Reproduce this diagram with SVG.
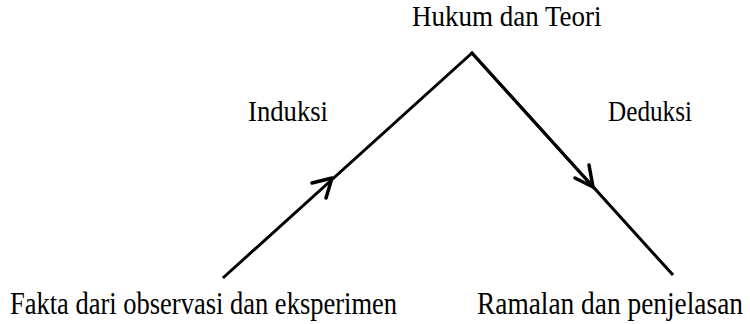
<svg xmlns="http://www.w3.org/2000/svg" width="750" height="324" viewBox="0 0 750 324">
<style>
text{font-family:"Liberation Serif","Times New Roman",serif;font-size:27px;fill:#000}
.ln{fill:none;stroke:#000;stroke-width:3;stroke-linecap:square;stroke-linejoin:miter}
.ar{fill:none;stroke:#000;stroke-width:3.5;stroke-linecap:round;stroke-linejoin:round}
</style>
<rect width="750" height="324" fill="#fff"/>
<g id="connectors">
<path class="ln" d="M224,277 L472,53 L672,274"/>
<path class="ln" d="M472,53 L594,188" stroke-width="4"/>
<path class="ar" d="M312,183 L332,178 L326,198"/>
<path class="ar" d="M575,178 L593,187 L589,165"/>
</g>
<g id="top"><text transform="translate(412,26) scale(1,1.12)" x="0" y="0">Hukum dan Teori</text></g>
<g id="induksi"><text transform="translate(248,121) scale(1,1.12)" x="0" y="0" textLength="80" lengthAdjust="spacingAndGlyphs">Induksi</text></g>
<g id="deduksi"><text transform="translate(608,121) scale(1,1.12)" x="0" y="0" textLength="84" lengthAdjust="spacingAndGlyphs">Deduksi</text></g>
<g id="fakta"><text transform="translate(10,314) scale(1,1.15)" x="0" y="0" textLength="387" lengthAdjust="spacingAndGlyphs">Fakta dari observasi dan eksperimen</text></g>
<g id="ramalan"><text transform="translate(477,314) scale(1,1.15)" x="0" y="0" textLength="266" lengthAdjust="spacingAndGlyphs">Ramalan dan penjelasan</text></g>
</svg>
